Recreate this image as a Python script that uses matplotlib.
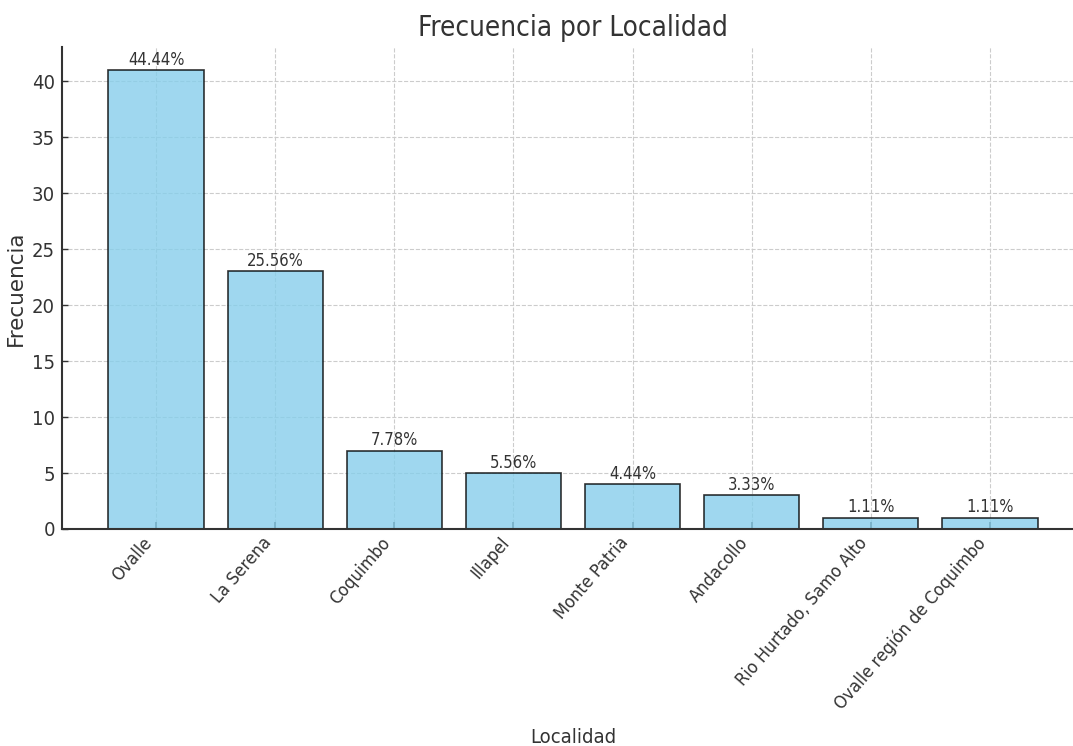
import matplotlib
matplotlib.use("Agg")
import matplotlib.pyplot as plt

categories = ["Ovalle", "La Serena", "Coquimbo", "Illapel", "Monte Patria",
              "Andacollo", "Rio Hurtado, Samo Alto", "Ovalle región de Coquimbo"]
counts = [41, 23, 7, 5, 4, 3, 1, 1]
percent_labels = ["44.44%", "25.56%", "7.78%", "5.56%", "4.44%", "3.33%", "1.11%", "1.11%"]

plt.rcParams['font.family'] = ['DejaVu Sans']
plt.rcParams['font.stretch'] = 'condensed'
txt = '#333333'

W, H = 1073, 746
fig = plt.figure(figsize=(W / 100, H / 100), dpi=100)
ax = fig.add_axes([62 / W, 1 - 529 / H, (1084 - 62) / W, (529 - 47) / H])

ax.set_axisbelow(True)
ax.grid(True, linestyle='--', color='#cccccc', linewidth=0.8)
x = list(range(len(categories)))
bars = ax.bar(x, counts, width=0.8, color='skyblue', edgecolor='black',
              alpha=0.8, linewidth=1.2)
for xi, c, lab in zip(x, counts, percent_labels):
    ax.text(xi, c + 0.12, lab, ha='center', va='bottom', fontsize=12, color=txt)

ax.set_ylim(0, 43.05)
ax.set_xlim(-0.79, 7.79)
ax.set_xticks(x)
ax.set_xticklabels(categories, rotation=49, ha='right', fontsize=13, color=txt)
ax.tick_params(axis='y', labelsize=14.5, labelcolor=txt, direction='in',
               length=4, color='#333333', width=1.0, pad=5)
ax.tick_params(axis='x', direction='in', length=5, color='#333333', width=1.2)
for s in ['top', 'right']:
    ax.spines[s].set_visible(False)
for s in ['left', 'bottom']:
    ax.spines[s].set_color('#333333')
    ax.spines[s].set_linewidth(1.5)

ax.set_title("Frecuencia por Localidad", fontsize=20, color=txt, pad=8)
ax.set_ylabel("Frecuencia", fontsize=15.5, color=txt, labelpad=4,
              fontstretch='normal')
ax.set_xlabel("Localidad", fontsize=14.5, color=txt, va='top')
ax.xaxis.set_label_coords(0.5, (529 - 728) / (529 - 47))

fig.savefig("out.png", dpi=100)
